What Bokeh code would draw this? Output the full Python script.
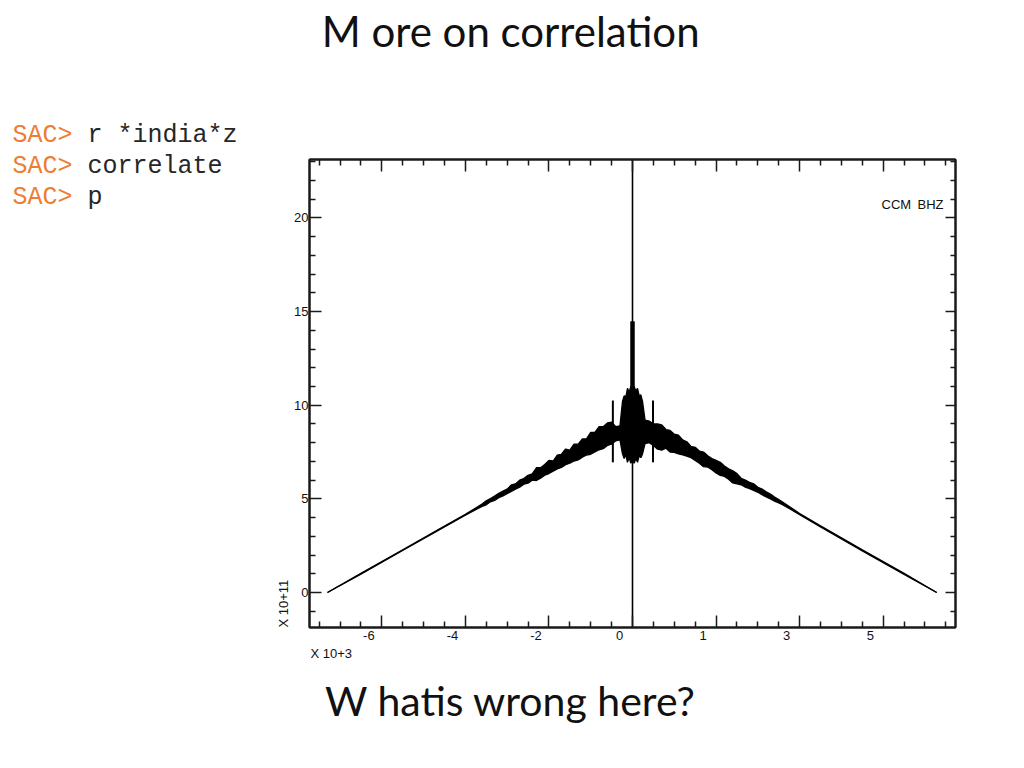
from bokeh.plotting import figure
from bokeh.models import LinearAxis, Range1d, FixedTicker, Label, Title
from bokeh.layouts import row, column
from bokeh.embed import file_html
from bokeh.resources import INLINE
from bokeh.core.properties import value

# ---------------- data (lag in units of 10^3, correlation in units of 10^11) -------------
left_lag = [-7.30, -6.50, -5.50, -4.50, -4.00, -3.60, -3.50, -3.40, -3.30, -3.20,
            -3.10, -3.00, -2.90, -2.80, -2.70, -2.60, -2.50, -2.40, -2.30, -2.20,
            -2.10, -2.00, -1.90, -1.80, -1.70, -1.60, -1.50, -1.40, -1.30, -1.20,
            -1.10, -1.00, -0.90, -0.80, -0.70, -0.60, -0.50, -0.40, -0.30]
left_upper = [0.00, 1.02, 2.28, 3.54, 4.17, 4.72, 4.90, 5.02, 5.15, 5.30,
              5.42, 5.52, 5.74, 5.80, 6.00, 6.08, 6.26, 6.34, 6.66, 6.66,
              6.84, 7.05, 7.02, 7.34, 7.38, 7.66, 7.60, 7.92, 7.92, 8.20,
              8.20, 8.55, 8.55, 8.85, 8.85, 9.05, 9.10, 8.85, 8.90]
left_lower = [0.00, 0.98, 2.24, 3.50, 4.13, 4.60, 4.68, 4.84, 4.92, 5.06,
              5.16, 5.28, 5.40, 5.52, 5.62, 5.78, 5.84, 6.00, 5.98, 6.10,
              6.26, 6.35, 6.48, 6.60, 6.68, 6.82, 6.90, 7.02, 7.08, 7.22,
              7.34, 7.38, 7.50, 7.62, 7.68, 7.85, 7.92, 8.10, 8.15]

mid_lag = [-0.24, -0.20, -0.16, -0.12, -0.08, -0.04, 0.00, 0.04, 0.08, 0.12, 0.16, 0.20, 0.24]
mid_upper = [10.20, 10.50, 10.45, 10.90, 10.70, 11.00, 10.80, 11.00, 10.75, 10.90, 10.50, 10.55, 10.20]
mid_lower = [7.40, 7.15, 7.35, 6.95, 7.20, 6.90, 7.05, 6.90, 7.15, 6.95, 7.30, 7.20, 7.40]

right_lag = [0.30, 0.40, 0.50, 0.60, 0.70, 0.80, 0.90, 1.00, 1.10, 1.20,
             1.30, 1.40, 1.50, 1.60, 1.70, 1.80, 1.90, 2.00, 2.10, 2.20,
             2.30, 2.40, 2.50, 2.60, 2.70, 2.80, 2.90, 3.00, 3.10, 3.20,
             3.30, 3.40, 3.50, 3.60, 4.00, 4.50, 5.50, 6.50, 7.28]
right_upper = [9.20, 9.15, 9.00, 9.00, 8.95, 8.70, 8.65, 8.45, 8.40, 8.15,
               8.05, 7.80, 7.75, 7.55, 7.50, 7.30, 7.15, 7.05, 6.95, 6.75,
               6.60, 6.50, 6.35, 6.10, 6.00, 5.88, 5.80, 5.62, 5.52, 5.38,
               5.25, 5.10, 4.96, 4.82, 4.22, 3.56, 2.28, 1.02, 0.00]
right_lower = [7.95, 8.00, 7.85, 7.65, 7.60, 7.70, 7.50, 7.48, 7.40, 7.35,
               7.28, 7.20, 7.05, 6.90, 6.72, 6.70, 6.55, 6.38, 6.25, 6.20,
               6.05, 5.85, 5.80, 5.75, 5.62, 5.55, 5.45, 5.35, 5.22, 5.10,
               5.00, 4.88, 4.78, 4.68, 4.16, 3.50, 2.22, 0.96, 0.00]

side_spike_lag = [-0.47, 0.49]
side_spike_top = [10.25, 10.25]
side_spike_bottom = [6.95, 6.95]

peak_lag = [0.0]
peak_core_top = [14.48]
peak_core_bottom = [10.5]
peak_top = [30.0]       # off-scale zero-lag value
peak_bottom = [-3.0]

x_tick_values = [-6, -4, -2, 0, 2, 4, 6]
x_tick_labels = ["-6", "-4", "-2", "0", "1", "3", "5"]
x_minor = [-7.5, -7, -6.5, -5.5, -5, -4.5, -3.5, -3, -2.5, -1.5, -1, -0.5,
           0.5, 1, 1.5, 2.5, 3, 3.5, 4.5, 5, 5.5, 6.5, 7, 7.5]
y_tick_values = [0, 5, 10, 15, 20]
y_minor = [-1, 1, 2, 3, 4, 6, 7, 8, 9, 11, 12, 13, 14, 16, 17, 18, 19, 21, 22, 23]

title_text = "M ore on correlation"
bottom_text = "W hatis wrong here?"
sac_prompts = ["SAC>", "SAC>", "SAC>"]
sac_commands = ["r *india*z", "correlate", "p"]
station_labels = ["CCM", "BHZ"]
x_scale_label = "X 10+3"
y_scale_label = "X 10+11"

# ---------------- layout constants (pixels) ----------------
LEFT_W = 258                 # column holding the SAC commands
RIGHT_W = 758
TOP_H = 108
MAIN_MB_L, MAIN_MB_T, FW, FH, MAIN_MB_B = 51, 51, 646, 468, 45
MAIN_MB_R = RIGHT_W - MAIN_MB_L - FW
MAIN_H = MAIN_MB_T + FH + MAIN_MB_B
BOTTOM_H = 88
TOTAL_H = TOP_H + MAIN_H + BOTTOM_H

X0, X1 = -7.73, 7.73
Y0, Y1 = -1.87, 23.12

TICK_FONT = "Liberation Sans Narrow, Liberation Sans, sans-serif"
INK = "#1a1a1a"


def text_panel(w, h):
    f = figure(width=w, height=h, x_range=Range1d(0, w), y_range=Range1d(h, 0),
               min_border=0, x_axis_location=None, y_axis_location=None,
               toolbar_location=None, output_backend="svg",
               outline_line_color=None, background_fill_color="white",
               border_fill_color="white")
    f.grid.visible = False
    return f


# ---------------- main plot ----------------
p = figure(x_range=Range1d(X0, X1), y_range=Range1d(Y0, Y1),
           frame_width=FW, frame_height=FH,
           min_border_left=MAIN_MB_L, min_border_right=MAIN_MB_R,
           min_border_top=MAIN_MB_T, min_border_bottom=MAIN_MB_B,
           x_axis_location=None, y_axis_location=None,
           toolbar_location=None, output_backend="svg",
           background_fill_color="white", border_fill_color="white",
           outline_line_color=INK, outline_line_width=2)
p.grid.visible = False
p.extra_x_ranges = {"lab": Range1d(X0 + 0.31, X1 + 0.31)}


def style_ticks(ax, major_in=12, minor_in=6):
    ax.major_tick_in = major_in
    ax.major_tick_out = 0
    ax.minor_tick_in = minor_in
    ax.minor_tick_out = 0
    ax.major_tick_line_color = INK
    ax.minor_tick_line_color = INK
    ax.major_tick_line_width = 1.5
    ax.minor_tick_line_width = 1.5
    ax.axis_line_color = INK
    ax.axis_line_width = 2


def silent(ax):
    ax.major_label_text_font_size = "1px"
    ax.major_label_text_color = None
    ax.major_label_standoff = 0


xt = FixedTicker(ticks=x_tick_values, minor_ticks=x_minor)
yt = FixedTicker(ticks=y_tick_values, minor_ticks=y_minor)

bx = LinearAxis(ticker=xt)
style_ticks(bx)
silent(bx)
p.add_layout(bx, "below")

# SAC writes its x labels a little to the left of the ticks
lx = LinearAxis(ticker=FixedTicker(ticks=x_tick_values, minor_ticks=[]), x_range_name="lab")
lx.major_label_overrides = dict(zip(x_tick_values, x_tick_labels))
lx.axis_line_color = None
lx.major_tick_line_color = None
lx.minor_tick_line_color = None
lx.major_tick_in = 0
lx.major_tick_out = 0
lx.major_label_standoff = 3
lx.major_label_text_font = TICK_FONT
lx.major_label_text_font_size = "13px"
lx.major_label_text_color = "#111111"
p.add_layout(lx, "below")

tx = LinearAxis(ticker=xt)
style_ticks(tx)
silent(tx)
p.add_layout(tx, "above")

ly = LinearAxis(ticker=yt)
style_ticks(ly)
ly.major_label_standoff = 1
ly.major_label_text_font = TICK_FONT
ly.major_label_text_font_size = "13px"
ly.major_label_text_color = "#111111"
p.add_layout(ly, "left")

ry = LinearAxis(ticker=yt)
style_ticks(ry, 10, 5)
silent(ry)
p.add_layout(ry, "right")

p.add_layout(Title(text=x_scale_label, align="left", offset=1, standoff=2,
                   text_font=TICK_FONT, text_font_size="13px",
                   text_font_style="normal", text_color="#111111"), "below")
p.add_layout(Title(text=y_scale_label, align="left", offset=0, standoff=2,
                   text_font=TICK_FONT, text_font_size="13px",
                   text_font_style="normal", text_color="#111111"), "left")

lag = left_lag + mid_lag + right_lag
upper = left_upper + mid_upper + right_upper
lower = left_lower + mid_lower + right_lower

p.varea(x=lag, y1=lower, y2=upper, fill_color="black")
p.line(lag, upper, line_color="black", line_width=1.3)
p.line(lag, lower, line_color="black", line_width=1.3)
p.segment(x0=side_spike_lag, y0=side_spike_bottom, x1=side_spike_lag, y1=side_spike_top,
          line_color="black", line_width=2)
p.segment(x0=peak_lag, y0=peak_core_bottom, x1=peak_lag, y1=peak_core_top,
          line_color="black", line_width=4.5)
p.segment(x0=peak_lag, y0=peak_bottom, x1=peak_lag, y1=peak_top,
          line_color="black", line_width=1.6)


def fx(page_x):
    return X0 + (page_x - LEFT_W - MAIN_MB_L) / FW * (X1 - X0)


def fy(page_y):
    return Y1 - (page_y - TOP_H - MAIN_MB_T) / FH * (Y1 - Y0)


for px, s in zip([881, 917], station_labels):
    p.add_layout(Label(x=fx(px), y=fy(204), text=s, text_align="left",
                       text_baseline="alphabetic", text_font=TICK_FONT,
                       text_font_size="13px", text_color="#111111"))

# ---------------- text panels ----------------
left_panel = text_panel(LEFT_W, TOTAL_H)
sac_base = [135, 166, 197]
left_panel.text(x=[12] * 3, y=sac_base, text=sac_prompts, text_align="left",
                text_baseline="alphabetic", text_font=value("Liberation Mono"),
                text_font_size="25px", text_color="#ED7D31")
left_panel.text(x=[87] * 3, y=sac_base, text=sac_commands, text_align="left",
                text_baseline="alphabetic", text_font=value("Liberation Mono"),
                text_font_size="25px", text_color="#262626")

top_panel = text_panel(RIGHT_W, TOP_H)
top_panel.text(x=[236], y=[30], text=[title_text], text_align="center",
               text_baseline="alphabetic", text_font=value("Lato"),
               text_font_size="42px", text_color="#111111")

bottom_panel = text_panel(RIGHT_W, BOTTOM_H)
bottom_panel.text(x=[236], y=[28], text=[bottom_text],
                  text_align="center", text_baseline="alphabetic",
                  text_font=value("Lato"), text_font_size="41px", text_color="#111111")

layout = row(left_panel, column(top_panel, p, bottom_panel, spacing=0), spacing=0)

open("out.html", "w").write(file_html(layout, INLINE))
